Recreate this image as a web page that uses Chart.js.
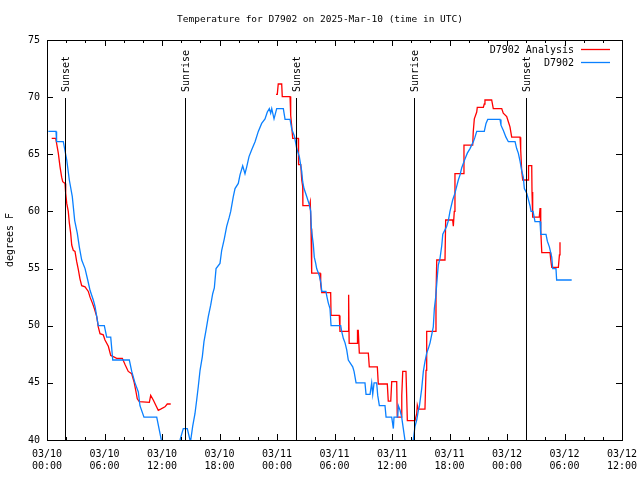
<!DOCTYPE html>
<html>
<head>
<meta charset="utf-8">
<style>
  html, body { margin: 0; padding: 0; background: #fff; }
  #wrap { width: 640px; height: 480px; }
</style>
<script src="https://cdn.jsdelivr.net/npm/chart.js@4/dist/chart.umd.min.js"></script>
</head>
<body>
<div id="wrap"><canvas id="c" width="640" height="480"></canvas></div>
<script>
// hours since 03/10 00:00 UTC
const blueHours = [0.14, 0.94, 1.0, 1.7, 2.06, 2.33, 2.64, 2.89, 3.16, 3.37, 3.62, 3.97, 4.25, 4.49, 4.83, 5.01, 5.35, 5.98, 6.23, 6.65, 6.86, 8.59, 8.84, 9.18, 9.53, 9.70, 10.12, 11.45, 11.69, 11.93, 12.3, 13.6,
  13.88, 14.22, 14.64, 14.92, 15.0, 15.20, 15.44, 15.62, 15.79, 15.97, 16.21, 16.38, 16.59, 16.83, 17.08, 17.29, 17.46, 17.64, 18.05, 18.23, 18.50, 18.75, 19.02, 19.17, 19.44, 19.62, 19.96, 20.14, 20.42, 20.66, 20.84, 21.08, 21.36, 21.71, 22.05, 22.40, 22.75, 22.99, 23.20, 23.34, 23.45, 23.69, 23.97, 24.66, 24.84, 25.36,
  25.54, 25.81, 26.06, 26.33, 26.58, 26.68, 26.82, 27.10, 27.37, 27.52, 27.58, 27.79, 27.89, 28.04, 28.14, 28.41, 28.59, 28.67, 29.11, 29.19, 29.35, 29.53, 29.64, 30.65, 30.75, 30.92, 31.10, 31.27, 31.44, 31.90, 32.04, 32.25, 33.18, 33.29, 33.71, 33.88, 33.99, 34.13, 34.40, 34.51, 34.68, 35.27, 35.38, 35.97, 36.14, 36.21, 36.60, 36.66, 36.84, 37.01, 37.18, 37.35, 37.45, 38.1,
  38.22, 38.40, 38.58, 38.75, 38.85, 39.10, 39.27, 39.44, 39.62, 39.79, 39.97, 40.14, 40.31, 40.42, 40.56, 40.73, 40.83, 41.01, 41.19, 41.30, 41.71, 41.88, 42.05, 42.33, 42.57, 42.75, 42.92, 43.10, 43.27, 43.44, 43.62, 43.86, 44.14, 44.31, 44.49, 44.66, 44.84, 45.63, 45.81, 45.99, 47.27,
  47.37, 47.61, 47.89, 48.14, 48.84, 49.01, 49.18, 49.36, 49.53, 49.70, 49.81, 50.06, 50.23, 50.40, 50.51, 50.72, 50.92, 51.45, 51.52, 52.07, 52.21, 52.42, 52.67, 52.77, 53.11, 53.18, 54.75];
const blueTemps = [67, 67, 66.1, 66.1, 64.5, 62.75, 61.3, 59.2, 58.1, 56.9, 55.75, 55.0, 54.0, 53.1, 52.25, 51.7, 50.0, 50.0, 49.0, 49.0, 47.0, 47.0, 46.0, 45.0, 44.2, 43.0, 42.0, 42.0, 41.0, 40.0, 39.5, 39.5,
  40.0, 41.0, 41.0, 40.0, 40.0, 41.2, 42.3, 43.5, 44.7, 46.1, 47.3, 48.6, 49.6, 50.8, 51.8, 52.8, 53.3, 55.0, 55.45, 56.6, 57.6, 58.7, 59.5, 60.0, 61.3, 62.0, 62.45, 63.2, 64.0, 63.3, 63.9, 64.8, 65.4, 66.1, 67.0, 67.7, 68.1, 68.7, 69.0, 68.6, 69.0, 68.1, 69.0, 69.0, 68.05, 68.05,
  67.2, 66.6, 65.5, 64.8, 63.5, 62.6, 62.0, 61.3, 60.6, 60.0, 58.5, 57.1, 56.0, 55.45, 55.0, 54.4, 53.7, 53.0, 53.0, 52.6, 52.0, 51.5, 50.0, 50.0, 49.5, 48.9, 48.5, 47.9, 47.0, 46.4, 46.0, 45.0, 45.0, 44.0, 44.0, 45.0, 44.0, 45.0, 45.0, 43.9, 43.0, 43.0, 42.0, 42.0, 41.0, 42.0, 42.0, 43.0, 42.6, 42.0, 41.0, 40.0, 39.5, 39.5,
  40.0, 41.2, 41.75, 42.6, 42.9, 44.5, 46.0, 46.85, 47.6, 48.0, 48.5, 49.2, 49.9, 51.5, 52.5, 54.3, 55.3, 55.9, 57.0, 58.0, 58.7, 59.2, 60.0, 61.0, 61.6, 62.2, 62.75, 63.2, 63.8, 64.2, 64.6, 65.1, 65.5, 65.8, 66.1, 66.5, 67.0, 67.0, 67.7, 68.05, 68.05,
  67.55, 67.1, 66.5, 66.1, 66.1, 65.5, 65.1, 64.4, 63.6, 63.0, 62.0, 61.6, 61.05, 60.5, 60.0, 60.0, 59.1, 59.1, 58.0, 58.0, 57.4, 56.9, 56.0, 55.0, 55.0, 54.0, 54.0];

// analysis, null marks the gap between the two runs
const redHours = [0.49, 0.91, 1.18, 1.36, 1.53, 1.64, 1.88, 1.95, 2.06, 2.22, 2.33, 2.47, 2.58, 2.74, 2.92, 3.10, 3.27, 3.44, 3.62, 3.97, 4.31, 4.49, 4.73, 4.94, 5.19, 5.35, 5.53, 5.87, 6.05, 6.40, 6.65, 6.92, 7.27, 7.86, 8.14, 8.48, 8.84, 9.08, 9.29, 9.42, 9.63, 10.68, 10.82, 11.09, 11.34, 11.61, 11.86, 12.31, 12.55, 12.91,
  18.0,
  23.90, 24.03, 24.13, 24.49, 24.55, 25.36, 25.43, 25.53, 25.64, 26.22, 26.25, 26.48, 26.58, 26.68, 26.70, 27.37, 27.47, 27.55, 27.62, 28.49, 28.56, 28.67, 29.60, 29.64, 30.50, 30.57, 31.43, 31.45, 31.50, 31.53, 32.38, 32.40, 32.48, 32.59, 33.53, 33.63, 34.47, 34.57, 35.51, 35.61, 35.87, 35.97, 36.49, 36.55, 37.01, 37.02, 37.12, 37.46, 37.53, 37.60, 38.40, 38.58, 38.64, 38.75, 39.44, 39.55, 39.62, 40.49, 40.59, 40.67, 41.53, 41.60, 42.33, 42.40, 42.50, 42.57, 43.44, 43.51, 44.42, 44.48, 44.59, 44.84, 44.90, 45.53, 45.63, 45.70, 46.40, 46.57, 47.45, 47.61, 47.97, 48.14, 48.31, 48.49, 49.36, 49.43, 49.53, 49.64, 50.22, 50.25, 50.58, 50.61, 50.68, 51.37, 51.45, 51.52, 51.63, 52.49, 52.56, 52.67, 53.36, 53.47, 53.53];
const redTemps = [66.4, 66.4, 65.1, 63.9, 63.0, 62.6, 62.45, 61.6, 60.7, 60.0, 59.0, 58.1, 57.06, 56.6, 56.5, 55.6, 54.9, 54.1, 53.5, 53.4, 53.0, 52.5, 52.0, 51.5, 50.8, 49.9, 49.3, 49.2, 48.75, 48.2, 47.4, 47.3, 47.15, 47.15, 46.6, 46.0, 45.8, 45.1, 44.2, 43.6, 43.35, 43.3, 43.9, 43.5, 43.06, 42.6, 42.7, 42.9, 43.15, 43.15,
  null,
  70.25, 70.25, 71.15, 71.15, 70.05, 70.05, 68.4, 67.5, 66.4, 66.4, 64.1, 64.1, 62.75, 62.2, 60.5, 60.5, 60.85, 58.5, 54.6, 54.6, 53.6, 52.9, 52.9, 50.9, 50.9, 49.5, 49.5, 52.7, 52.7, 48.45, 48.45, 49.6, 49.6, 47.6, 47.6, 46.4, 46.4, 44.9, 44.9, 43.4, 43.4, 45.1, 45.1, 42.0, 42.0, 43.9, 46.0, 46.0, 43.9, 41.7, 41.7, 42.3, 43.06, 42.7, 42.7, 46.1, 49.5, 49.5, 52.6, 55.75, 55.75, 59.25, 59.25, 58.7, 60.0, 63.3, 63.3, 65.8, 65.8, 67.0, 68.1, 68.7, 69.1, 69.1, 69.4, 69.75, 69.75, 69.0, 69.0, 68.6, 68.3, 67.85, 67.4, 66.5, 66.5, 65.4, 63.6, 62.75, 62.75, 64.0, 64.0, 61.7, 59.5, 59.5, 60.3, 58.4, 56.4, 56.4, 55.8, 55.1, 55.1, 56.2, 57.3];

const sunHours = [1.91, 14.43, 25.98, 38.33, 50.02];
const sunLabels = ["Sunset", "Sunrise", "Sunset", "Sunrise", "Sunset"];
const xDays = ["03/10", "03/11", "03/12"];
const yTicks = [40, 45, 50, 55, 60, 65, 70, 75];

const FONT = "'DejaVu Sans Mono', 'Liberation Mono', monospace";

function pts(xs, ys) { return xs.map((x, i) => ({ x: x, y: ys[i] })); }

function tickLabel(v) {
  if (v % 6 !== 0) return "";
  const day = xDays[Math.floor(v / 24)];
  const hh = String(v % 24).padStart(2, "0");
  return [day, hh + ":00"];
}

// gnuplot look: border box, inward mirrored ticks, sun lines, legend, title
const gnuplotBits = {
  id: "gnuplotBits",
  afterDatasetsDraw(chart) {
    const { ctx, chartArea: a, scales } = chart;
    const xs = scales.x, ys = scales.y;
    ctx.save();
    ctx.strokeStyle = "#000";
    ctx.lineWidth = 1;

    // sunrise / sunset markers
    ctx.font = "10px " + FONT;
    ctx.fillStyle = "#000";
    sunHours.forEach((h, i) => {
      const px = Math.round(xs.getPixelForValue(h)) + 0.5;
      ctx.beginPath();
      ctx.moveTo(px, 98);
      ctx.lineTo(px, a.bottom);
      ctx.stroke();
      ctx.save();
      ctx.translate(px + 1, 92);
      ctx.rotate(-Math.PI / 2);
      ctx.textAlign = "left";
      ctx.textBaseline = "middle";
      ctx.fillText(sunLabels[i], 0, 0);
      ctx.restore();
    });

    // border
    ctx.strokeRect(Math.round(a.left) + 0.5, Math.round(a.top) + 0.5,
      Math.round(a.right - a.left), Math.round(a.bottom - a.top));

    // x ticks every 2 h, longer at 6 h
    xs.ticks.forEach((t) => {
      const px = Math.round(xs.getPixelForValue(t.value)) + 0.5;
      const len = t.value % 6 === 0 ? 6 : 3;
      ctx.beginPath();
      ctx.moveTo(px, a.bottom); ctx.lineTo(px, a.bottom - len);
      ctx.moveTo(px, a.top); ctx.lineTo(px, a.top + len);
      ctx.stroke();
    });
    ys.ticks.forEach((t) => {
      const py = Math.round(ys.getPixelForValue(t.value)) + 0.5;
      ctx.beginPath();
      ctx.moveTo(a.left, py); ctx.lineTo(a.left + 6, py);
      ctx.moveTo(a.right, py); ctx.lineTo(a.right - 6, py);
      ctx.stroke();
    });

    // key, top right
    ctx.font = "10px " + FONT;
    ctx.textAlign = "right";
    ctx.textBaseline = "middle";
    chart.data.datasets.forEach((ds, i) => {
      const y = 50 + i * 13;
      ctx.fillStyle = "#000";
      ctx.fillText(ds.label, 574, y);
      ctx.strokeStyle = ds.borderColor;
      ctx.lineWidth = 1.3;
      ctx.beginPath();
      ctx.moveTo(581, y - 0.5); ctx.lineTo(610, y - 0.5);
      ctx.stroke();
    });

    // title
    ctx.fillStyle = "#000";
    ctx.textAlign = "center";
    ctx.font = "9.5px " + FONT;
    ctx.fillText("Temperature for D7902 on 2025-Mar-10 (time in UTC)", 320, 20);
    ctx.restore();
  }
};

new Chart(document.getElementById("c"), {
  type: "line",
  data: {
    datasets: [
      { label: "D7902 Analysis", data: pts(redHours, redTemps), borderColor: "#ff0000", borderWidth: 1.3, pointRadius: 0, tension: 0, spanGaps: false, order: 1 },
      { label: "D7902", data: pts(blueHours, blueTemps), borderColor: "#0a80ff", borderWidth: 1.3, pointRadius: 0, tension: 0, order: 0 },
    ],
  },
  options: {
    responsive: false,
    animation: false,
    events: [],
    layout: { padding: { top: 40, right: 18, left: 0, bottom: 0 } },
    plugins: { legend: { display: false }, tooltip: { enabled: false } },
    scales: {
      x: {
        type: "linear", min: 0, max: 60,
        grid: { display: false, drawTicks: false },
        border: { display: false },
        afterFit: (s) => { s.height = 40; s.paddingLeft = 0; s.paddingRight = 0; },
        ticks: {
          stepSize: 2, autoSkip: false, maxRotation: 0, padding: 9,
          color: "#000", font: { family: FONT, size: 10, lineHeight: 1.15 },
          callback: tickLabel,
        },
      },
      y: {
        min: 40, max: 75,
        afterBuildTicks: (s) => { s.ticks = yTicks.map((v) => ({ value: v })); },
        afterFit: (s) => { s.width = 47; },
        grid: { display: false, drawTicks: false },
        border: { display: false },
        title: { display: true, text: "degrees F", color: "#000", font: { family: FONT, size: 10 }, padding: { top: 4, bottom: 0 } },
        ticks: { padding: 7, color: "#000", font: { family: FONT, size: 10 } },
      },
    },
  },
  plugins: [gnuplotBits],
});
</script>
</body>
</html>
